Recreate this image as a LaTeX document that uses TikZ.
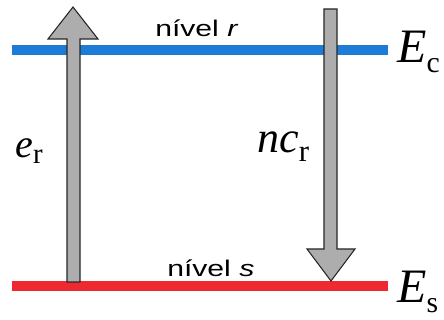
\documentclass[tikz,border=0pt]{standalone}
\usepackage{fontspec}
\newfontfamily\levelfont{Liberation Sans}
\newfontfamily\symfont{Liberation Serif}
\newcommand{\quant}[4]{{\symfont\itshape #1}\raisebox{#4}{\scalebox{#3}{\symfont #2}}}
\usetikzlibrary{positioning}
\definecolor{levelblue}{HTML}{1E7CD6}
\definecolor{levelred}{HTML}{EE2A30}
\definecolor{arrowgray}{HTML}{ADADAD}
\tikzset{level/.style={line width=7pt},
  blockarrow/.style={draw=black!85,fill=arrowgray,line width=0.8pt,line join=miter},
  levellabel/.style={font=\levelfont\fontsize{17}{18}\selectfont,inner sep=0pt,
  anchor=base west},
  energy/.style={font=\fontsize{36}{38}\selectfont,inner sep=0pt,anchor=base west},
  rate/.style={inner sep=0pt,anchor=base west}}

\begin{document}
\begin{tikzpicture}[x=0.75pt,y=-0.75pt]
 \useasboundingbox (0,0) rectangle (444,320);
 % energy levels
 \coordinate (c-left) at (12,50);
 \coordinate (c-right) at (388,50);
 \coordinate (s-left) at (12,286);
 \coordinate (s-right) at (388,286);
 \draw[level,draw=levelblue] (c-left) -- (c-right);
 \draw[level,draw=levelred] (s-left) -- (s-right);
 \node[energy] (ec) at (397,63) {\quant{E}{c}{0.62}{-0.2em}};
 \node[energy] (es) at (397,303) {\quant{E}{s}{0.62}{-0.2em}};
 \node[levellabel] (nr) at (155,37) {\scalebox{1.33}[1]{nível \textit{r}}};
 \node[levellabel] (ns) at (167,277) {\scalebox{1.33}[1]{nível \textit{s}}};
 % excitation arrow
 \draw[blockarrow] (67,282) -- (67,39) -- (48,39) -- (73,7) -- (98,39)
   -- (80,39) -- (80,282) -- cycle;
 \node[rate,font=\fontsize{30}{32}\selectfont] (er) at (15,158) {\quant{e}{r}{0.72}{-0.13em}};
 % emission arrow
 \draw[blockarrow] (324,9) -- (324,249) -- (307,249) -- (331,281) -- (355,249)
   -- (337,249) -- (337,9) -- cycle;
 \node[rate,font=\fontsize{33}{35}\selectfont] (ncr) at (257,153) {\quant{nc}{r}{0.7}{-0.2em}};
\end{tikzpicture}
\end{document}
